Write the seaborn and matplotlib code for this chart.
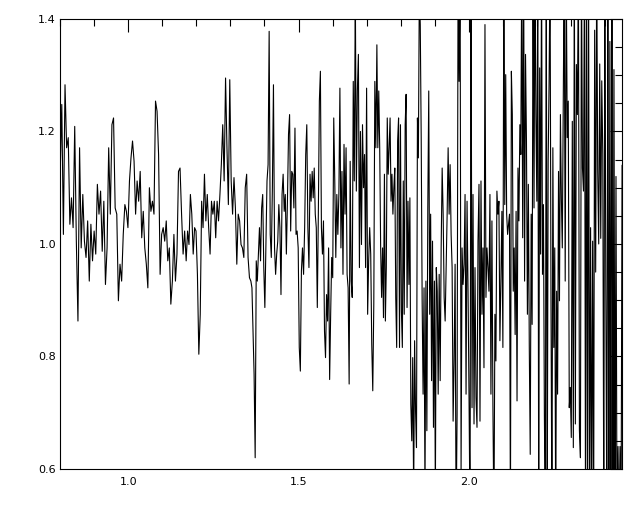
import numpy as np
import pandas as pd
import matplotlib
matplotlib.use("Agg")
import matplotlib.pyplot as plt
from matplotlib.ticker import MultipleLocator, FormatStrFormatter
import seaborn as sns

# wavelength edges of the pieces (one piece per zoom strip)
seg_edges = [0.80, 0.99, 1.17, 1.36, 1.54, 1.73, 1.91, 2.10, 2.28, 2.45]

flux_0 = [1.124, 1.248, 1.017, 1.283, 1.171, 1.189, 1.035, 1.082, 1.029, 1.209,
          1.005, 0.863, 1.171, 0.993, 1.088, 1.005, 0.976, 1.041, 0.934, 1.035,
          0.970, 1.023, 0.982, 1.106, 1.053, 1.094, 0.987, 1.076, 0.928, 0.993,
          1.171, 1.053, 1.212, 1.224, 1.064, 1.053, 0.899, 0.964, 0.934, 1.017]
flux_1 = [1.070, 1.058, 1.029, 1.112, 1.153, 1.183, 1.147, 1.053, 1.112, 1.076,
          1.129, 1.011, 1.058, 0.993, 0.964, 0.922, 1.100, 1.058, 1.076, 1.053,
          1.254, 1.236, 1.159, 0.946, 1.017, 1.029, 1.005, 1.041, 0.970, 0.993,
          0.893, 0.934, 1.017, 0.934, 0.982, 1.129, 1.135, 1.053, 0.982, 1.023]
flux_2 = [0.970, 1.023, 0.999, 1.088, 1.053, 0.982, 1.029, 1.023, 0.946, 0.804,
          0.875, 1.076, 1.029, 1.124, 1.041, 1.088, 1.029, 0.982, 1.076, 1.053,
          1.076, 1.011, 1.076, 1.041, 1.088, 1.141, 1.212, 1.112, 1.295, 1.171,
          1.070, 1.292, 1.112, 1.053, 1.118, 1.064, 0.964, 1.053, 1.041, 0.999,
          0.993, 0.976, 1.100, 1.124, 0.976, 0.940]
flux_3 = [0.934, 0.922, 0.845, 0.768, 0.620, 0.970, 0.934, 0.982, 1.029, 0.970,
          1.064, 1.088, 0.958, 0.887, 1.005, 1.112, 1.141, 1.378, 1.017, 0.976,
          1.100, 1.283, 0.993, 0.946, 0.982, 1.005, 1.070, 1.029, 0.910, 1.088,
          1.124, 1.058, 1.088, 0.982, 1.076, 1.195, 1.230, 1.023, 1.129, 1.124,
          1.064, 1.206, 1.017, 1.023, 0.993, 0.816, 0.774, 0.952, 0.993, 0.946,
          1.029, 1.159, 1.212, 1.029, 0.958, 1.124, 1.076]
flux_4 = [1.129, 1.082, 1.135, 1.053, 1.029, 0.887, 1.053, 1.254, 1.307, 1.029,
          0.982, 1.041, 0.845, 0.798, 0.910, 0.863, 0.993, 0.759, 0.875, 0.976,
          0.940, 1.224, 1.112, 0.976, 1.088, 1.017, 1.088, 1.277, 0.993, 1.129,
          0.946, 1.177, 1.053, 1.171, 0.946, 0.922, 0.751, 1.147, 0.934, 0.905,
          1.289, 1.112, 1.450, 1.094, 1.272, 1.337, 0.958, 1.200, 0.999, 1.212,
          1.100, 1.159, 0.958, 1.277, 0.875, 0.970, 1.029, 0.982, 0.822, 0.739,
          0.893, 1.289, 1.171]
flux_5 = [1.354, 1.171, 1.272, 1.171, 0.993, 0.905, 0.993, 0.869, 1.124, 0.863,
          0.958, 1.224, 1.124, 1.171, 1.224, 1.076, 1.124, 1.053, 1.100, 1.135,
          0.905, 0.816, 1.183, 1.224, 0.816, 1.212, 0.881, 0.816, 1.112, 0.875,
          1.212, 1.266, 0.887, 1.076, 0.928, 1.082, 0.715, 0.650, 0.798, 0.550,
          0.828, 0.703, 0.638, 1.224, 1.153, 1.450, 1.390, 1.189, 0.899, 0.733,
          0.922, 0.550, 0.934, 0.668, 1.064, 1.272, 0.875, 1.053, 0.757, 1.005,
          0.674, 0.934, 0.550, 0.958, 0.916]
flux_6 = [0.733, 0.946, 0.757, 0.993, 1.135, 1.053, 0.905, 0.863, 0.958, 1.053,
          1.171, 1.053, 1.141, 1.017, 0.958, 0.685, 0.792, 0.964, 0.500, 0.697,
          1.500, 1.289, 1.500, 0.597, 0.993, 0.928, 0.964, 1.088, 0.733, 1.076,
          0.916, 0.727, 0.500, 1.500, 0.709, 1.088, 0.680, 0.958, 0.727, 0.674,
          1.005, 1.106, 0.685, 1.112, 0.875, 0.993, 0.780, 1.390, 0.905, 0.993,
          0.958, 0.916, 1.088, 0.733, 1.041, 0.709, 0.500, 0.875, 0.792, 1.094,
          1.053, 1.076, 0.828, 0.934, 1.058]
flux_7 = [0.816, 1.500, 1.070, 1.301, 1.053, 1.017, 1.035, 1.053, 0.500, 1.307,
          1.230, 0.916, 0.993, 0.839, 1.058, 0.721, 1.135, 1.041, 1.212, 1.159,
          1.500, 1.011, 1.500, 0.934, 1.337, 1.183, 0.875, 1.106, 0.816, 0.626,
          1.053, 0.857, 1.500, 1.064, 1.500, 1.230, 1.076, 1.500, 0.500, 1.313,
          0.982, 1.500, 0.946, 1.070, 0.697, 0.500, 1.500, 0.500, 1.147, 1.289,
          1.500, 0.899, 0.500, 1.171, 0.816, 0.993, 0.500, 0.916, 0.733, 1.129,
          0.899, 1.230, 1.082, 0.993, 1.248]
flux_8 = [1.500, 0.934, 1.500, 1.189, 1.254, 0.709, 0.745, 0.656, 1.218, 0.638,
          1.500, 0.680, 1.319, 1.230, 1.500, 0.668, 0.620, 1.500, 1.135, 1.094,
          1.500, 0.500, 1.500, 0.500, 1.500, 0.500, 1.029, 0.500, 1.005, 0.500,
          1.380, 0.950, 1.500, 1.130, 1.000, 1.320, 1.010, 1.290, 1.160, 0.500,
          1.500, 0.920, 0.500, 1.500, 0.500, 1.360, 0.500, 1.500, 0.500, 1.310,
          0.500, 1.120, 0.500, 0.640, 0.500, 0.640, 0.500, 1.140]

pieces = [flux_0, flux_1, flux_2, flux_3, flux_4, flux_5, flux_6, flux_7, flux_8]

wl, fl = [], []
for i, f in enumerate(pieces):
    last = (i == len(pieces) - 1)
    wl.extend(np.linspace(seg_edges[i], seg_edges[i + 1], len(f), endpoint=last))
    fl.extend(f)
df = pd.DataFrame({"wavelength": wl, "flux": fl})

sns.set_style("white")
plt.rcParams["font.family"] = ["DejaVu Sans"]

fig = plt.figure(figsize=(6.4, 5.12), dpi=100)
ax = fig.add_axes([0.094, 0.084, 0.878, 0.879])
sns.lineplot(data=df, x="wavelength", y="flux", color="black", linewidth=0.8,
             estimator=None, ax=ax)

ax.set_xlim(0.80, 2.45)
ax.set_ylim(0.6, 1.4)
ax.set_xlabel("")
ax.set_ylabel("")
ax.xaxis.set_major_locator(MultipleLocator(0.5))
ax.xaxis.set_minor_locator(MultipleLocator(0.1))
ax.yaxis.set_major_locator(MultipleLocator(0.2))
ax.yaxis.set_minor_locator(MultipleLocator(0.05))
ax.xaxis.set_major_formatter(FormatStrFormatter("%.1f"))
ax.yaxis.set_major_formatter(FormatStrFormatter("%.1f"))
ax.tick_params(which="both", direction="in", top=True, right=True,
               color="black", width=0.8, labelsize=8, labelcolor="black")
ax.tick_params(which="major", length=9)
ax.tick_params(which="minor", length=5)
ax.tick_params(axis="x", pad=6)
ax.tick_params(axis="y", pad=3)
for s in ax.spines.values():
    s.set_color("black")
    s.set_linewidth(0.8)

fig.savefig("out.png", dpi=100, facecolor="white")
